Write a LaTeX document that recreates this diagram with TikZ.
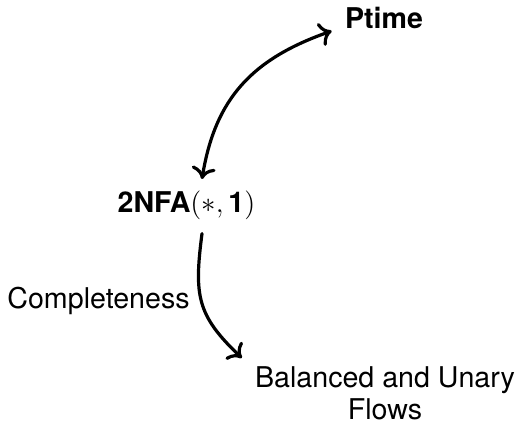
\documentclass[tikz,border=0pt]{standalone}
\usepackage{fontspec}
\setmainfont{TeX Gyre Heros}
\usetikzlibrary{arrows.meta}
\begin{document}
\begin{tikzpicture}[x=0.5pt,y=-0.5pt,
  lbl/.style={inner sep=0pt, font=\fontsize{14.3}{16}\selectfont},
  tip/.tip={Computer Modern Rightarrow[length=6pt,width=12pt]},
  link/.style={line width=1.6pt, line cap=round}]
\useasboundingbox (0,0) rectangle (520,427);

% class labels
\node[lbl, anchor=base] (ptime) at (384,29) {\textbf{Ptime}};
\node[lbl, anchor=base] (nfa) at (186.5,213) {\textbf{2NFA}$(*,\textbf{1})$};
\node[lbl, anchor=north, align=center] (bal) at (385,366) {Balanced and Unary\\Flows};
\node[lbl, anchor=base] (comp) at (98.5,309) {Completeness};

% equivalence with Ptime
\draw[link, tip-tip] ([shift={(15.5,-12)}]nfa.north)
  .. controls +(13,-80) and +(-80,28) .. ([shift={(-13,2)}]ptime.base west);

% completeness reduction
\draw[link, -tip] ([shift={(15.5,13)}]nfa.south)
  .. controls +(-8,62) and +(-45,-43) .. ([shift={(-13,-8)}]bal.north west);
\end{tikzpicture}
\end{document}
